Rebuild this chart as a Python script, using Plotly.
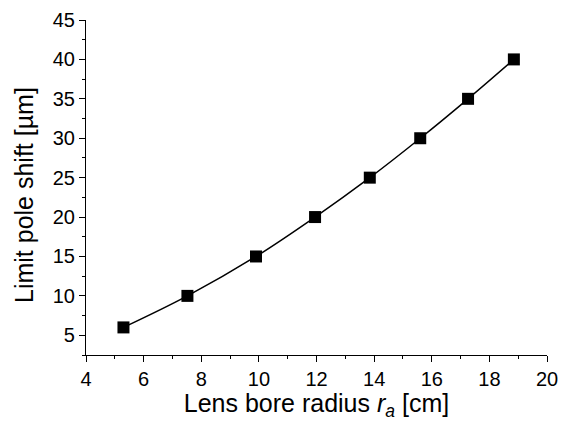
import plotly.graph_objects as go

radius_cm = [5.3, 7.52, 9.9, 11.95, 13.85, 15.6, 17.26, 18.85]
pole_shift_um = [6, 10, 15, 20, 25, 30, 35, 40]

x_ticks = [4, 6, 8, 10, 12, 14, 16, 18, 20]
y_ticks = [5, 10, 15, 20, 25, 30, 35, 40, 45]

font_family = "Liberation Sans, Arial, sans-serif"

fig = go.Figure()
fig.add_trace(go.Scatter(
    x=radius_cm, y=pole_shift_um,
    mode="lines+markers",
    line=dict(color="black", width=1.5, shape="spline"),
    marker=dict(symbol="square", size=12, color="black"),
    showlegend=False,
))

fig.update_layout(
    width=561, height=421,
    margin=dict(l=86, r=14, t=20, b=66),
    paper_bgcolor="white", plot_bgcolor="white",
    font=dict(family=font_family, color="black"),
)
fig.update_xaxes(
    range=[4, 20], tickvals=x_ticks, ticktext=[str(v) for v in x_ticks],
    showline=True, linecolor="black", linewidth=1.2, automargin=False,
    ticks="outside", ticklen=6, tickwidth=1.2, tickcolor="black",
    minor=dict(dtick=1, tick0=4, ticks="outside", ticklen=3, tickwidth=1.2, tickcolor="black"),
    showgrid=False, zeroline=False,
    tickfont=dict(size=20),
    title=dict(text="Lens bore radius <i>r</i><sub><i>a</i></sub> [cm]", font=dict(size=25), standoff=4),
)
fig.update_yaxes(
    range=[2.5, 45], tickvals=y_ticks, ticktext=[str(v) for v in y_ticks],
    showline=True, linecolor="black", linewidth=1.2, automargin=False,
    ticks="outside", ticklen=6, tickwidth=1.2, tickcolor="black",
    minor=dict(dtick=2.5, tick0=0, ticks="outside", ticklen=3, tickwidth=1.2, tickcolor="black"),
    showgrid=False, zeroline=False,
    tickfont=dict(size=20),
)
fig.add_annotation(
    text="Limit pole shift [µm]", textangle=-90,
    xref="paper", yref="paper", x=(24 - 86) / 461, y=(355 - 195) / 335,
    xanchor="center", yanchor="middle", showarrow=False,
    font=dict(size=25, family=font_family, color="black"),
)

fig.write_html("out.html")
